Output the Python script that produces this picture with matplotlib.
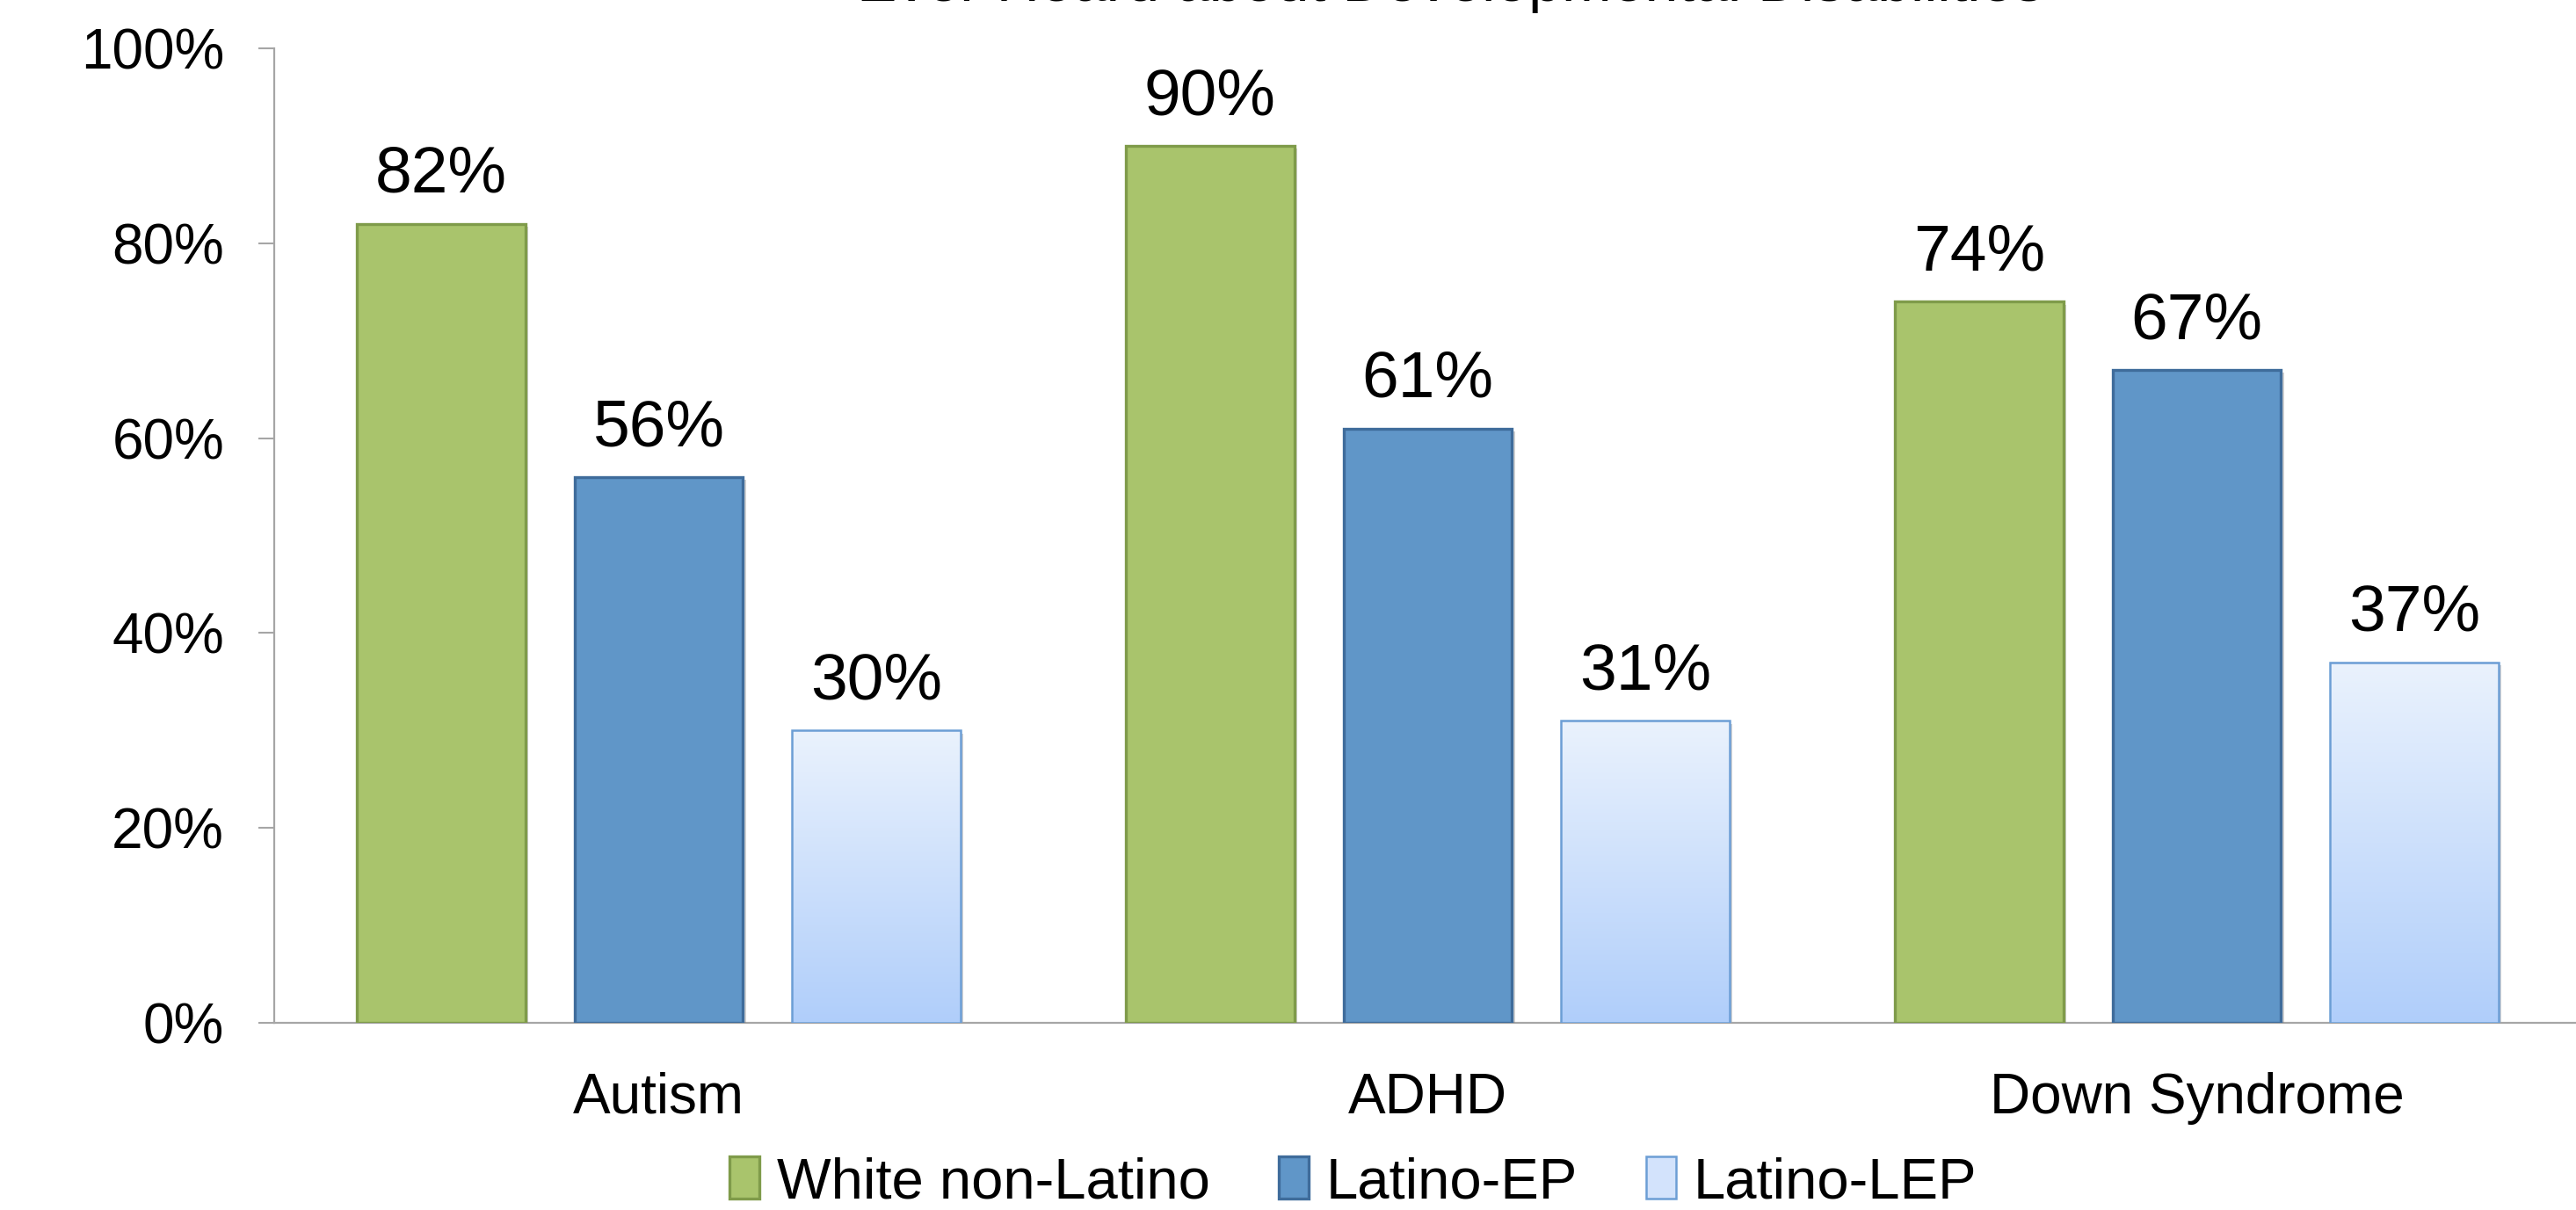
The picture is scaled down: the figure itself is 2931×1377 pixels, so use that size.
import numpy as np
import matplotlib.pyplot as plt
import matplotlib.patheffects as pe
from matplotlib.patches import Patch
from matplotlib.colors import LinearSegmentedColormap

plt.rcParams['font.family'] = ['Liberation Sans', 'DejaVu Sans']

# data
categories = ['Autism', 'ADHD', 'Down Syndrome']
series = ['White non-Latino', 'Latino-EP', 'Latino-LEP']
white = [82, 90, 74]
latino_ep = [56, 61, 67]
latino_lep = [30, 31, 37]
yticks = [0, 20, 40, 60, 80, 100]

fills = ['#a9c46c', '#6096c8', None]
edges = ['#7f9b4a', '#3f6c9b', '#6c9ed5']
lep_top, lep_bottom = '#eaf2fd', '#b0cefa'

W, H, DPI = 2931, 1377, 100
fig = plt.figure(figsize=(W / DPI, H / DPI), dpi=DPI)
# plot area runs off the right edge like the original
ax = fig.add_axes([312 / W, (H - 1164) / H, 2625 / W, (1164 - 55) / H])

x = np.arange(len(categories))
step = 0.283
width = 0.219
shadow = [pe.SimplePatchShadow(offset=(2.5, -2.5), shadow_rgbFace='#808080', alpha=0.35), pe.Normal()]

cmap = LinearSegmentedColormap.from_list('lep', [lep_bottom, lep_top])
grad = np.linspace(0, 1, 256).reshape(-1, 1)

for i, vals in enumerate([white, latino_ep, latino_lep]):
    pos = x + (i - 1) * step
    if fills[i] is not None:
        bars = ax.bar(pos, vals, width, color=fills[i], edgecolor=edges[i], linewidth=2.4, zorder=3)
        for b in bars:
            b.set_path_effects(shadow)
    else:
        # white base carries the shadow, gradient on top, outline last
        base = ax.bar(pos, vals, width, color='white', linewidth=0, zorder=2)
        for b in base:
            b.set_path_effects(shadow)
        bars = ax.bar(pos, vals, width, facecolor='none', edgecolor=edges[i], linewidth=1.8, zorder=4)
        for b in bars:
            ax.imshow(grad, cmap=cmap, origin='lower', aspect='auto', zorder=3,
                      extent=[b.get_x(), b.get_x() + b.get_width(), 0, b.get_height()])
    for b in bars:
        ax.annotate(f'{b.get_height():.0f}%', (b.get_x() + b.get_width() / 2, b.get_height()),
                    xytext=(0, 15), textcoords='offset points', ha='center', va='bottom',
                    fontsize=54, zorder=5)

ax.set_xlim(-0.5, 2.5)
ax.set_ylim(0, 100)
ax.set_yticks(yticks)
ax.set_yticklabels([f'{t}%' for t in yticks])
ax.set_xticks(x)
ax.set_xticklabels(categories)
ax.tick_params(axis='y', length=13, width=1.5, color='#a6a6a6', pad=28, labelsize=46)
ax.tick_params(axis='x', length=0, pad=40, labelsize=46)
for s in ['top', 'right']:
    ax.spines[s].set_visible(False)
for s in ['left', 'bottom']:
    ax.spines[s].set_color('#a6a6a6')
    ax.spines[s].set_linewidth(1.6)

handles = [Patch(facecolor=fills[0], edgecolor=edges[0], linewidth=2.4),
           Patch(facecolor=fills[1], edgecolor=edges[1], linewidth=2.4),
           Patch(facecolor='#d3e3fc', edgecolor=edges[2], linewidth=1.8)]
fig.legend(handles, series, loc='center', bbox_to_anchor=(1540 / W, 31 / H), ncol=3,
           frameon=False, fontsize=47, handlelength=0.52, handleheight=0.75,
           handletextpad=0.3, columnspacing=1.2)

# title is cut off at the top edge in the original
fig.text(1650 / W, 1 - 1 / H, 'Ever Heard about Developmental Disabilities',
         ha='center', va='baseline', fontsize=49)

fig.savefig('out.png', dpi=DPI)
